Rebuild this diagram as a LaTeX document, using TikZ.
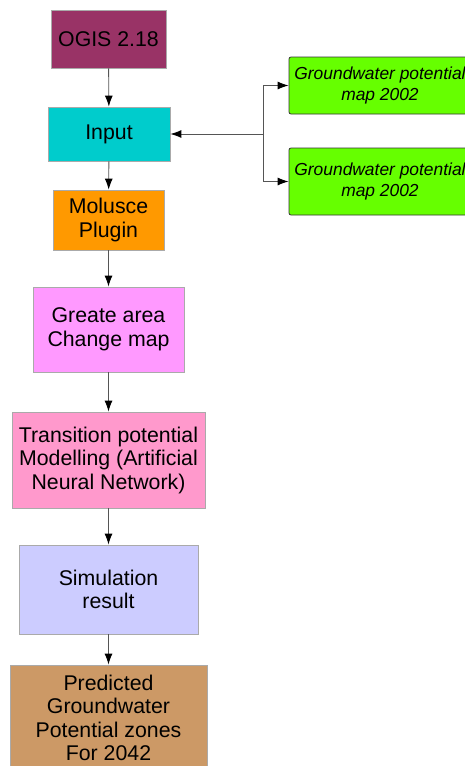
\documentclass[tikz,border=0pt]{standalone}
\usepackage{fontspec}
\setmainfont{Liberation Sans}
\usetikzlibrary{arrows.meta}
\definecolor{cogis}{HTML}{993366}
\definecolor{cinput}{HTML}{00CCCC}
\definecolor{cmol}{HTML}{FF9900}
\definecolor{cgreate}{HTML}{FF99FF}
\definecolor{ctrans}{HTML}{FF99CC}
\definecolor{csim}{HTML}{CCCCFF}
\definecolor{cpred}{HTML}{CC9966}
\definecolor{cgreen}{HTML}{66FF00}
\definecolor{cline}{HTML}{555555}
\definecolor{cbord}{HTML}{AAAAAA}
\tikzset{
  box/.style={draw=cbord, line width=0.8pt, inner sep=0pt, align=center,
    font=\fontsize{21.3}{23.5}\selectfont},
  gbox/.style={draw=black!80, line width=0.8pt, rounded corners=2pt, fill=cgreen,
    inner sep=0pt, align=center, minimum width=182pt,
    font=\fontsize{17.4}{21.5}\selectfont\itshape},
  arr/.style={draw=cline, line width=0.9pt, -{Latex[length=11pt,width=8pt,color=black]}}
}
\begin{document}
\begin{tikzpicture}[x=1pt,y=-1pt]
\useasboundingbox (0,0) rectangle (465,766);
\clip (0,0) rectangle (465,766);
\node[box, fill=cogis, minimum width=115pt, minimum height=58pt] (ogis) at (108.5,39) {OGIS 2.18};
\node[box, fill=cinput, minimum width=122pt, minimum height=54pt] (input) at (109,134) {Input};
\node[box, fill=cmol, minimum width=111pt, minimum height=60pt] (mol) at (108.5,220) {Molusce\\Plugin};
\node[box, fill=cgreate, minimum width=151pt, minimum height=85pt] (greate) at (108.5,329.5) {Greate area\\Change map};
\node[box, fill=ctrans, minimum width=193pt, minimum height=96pt] (trans) at (108.5,460) {Transition potential\\Modelling (Artificial\\Neural Network)};
\node[box, fill=csim, minimum width=179pt, minimum height=89pt] (sim) at (108.5,589.5) {Simulation\\result};
\node[box, fill=cpred, minimum width=197pt, minimum height=106pt] (pred) at (108.5,718) {Predicted\\Groundwater\\Potential zones\\For 2042};
\node[gbox, minimum height=57pt] (g1) at (380,85.5) {Groundwater potential\\map 2002};
\node[gbox, minimum height=67pt] (g2) at (380,181.5) {Groundwater potential\\map 2002};
\coordinate (branch) at (263,134);
\draw[arr] (ogis) -- (input);
\draw[arr] (input) -- (mol);
\draw[arr] (mol) -- (greate);
\draw[arr] (greate) -- (trans);
\draw[arr] (trans) -- (sim);
\draw[arr] (sim) -- (pred);
\draw[arr] (branch) -- (input.east);
\draw[arr] (branch) |- (g1.west);
\draw[arr] (branch) |- (g2.west);
\end{tikzpicture}
\end{document}
